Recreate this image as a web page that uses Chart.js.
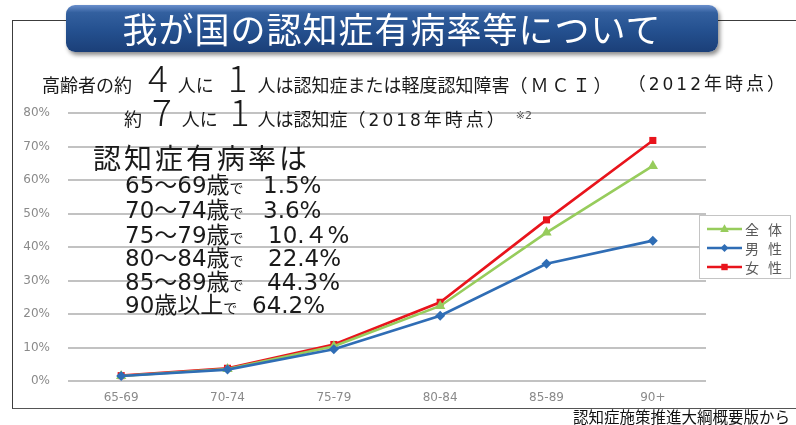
<!DOCTYPE html>
<html><head><meta charset="utf-8">
<script src="https://cdn.jsdelivr.net/npm/chart.js@4.4.1/dist/chart.umd.min.js"></script>
<style>
html,body{margin:0;padding:0;background:#fff;}
#wrap{position:relative;width:796px;height:425px;overflow:hidden;font-family:"Noto Sans CJK JP",sans-serif;color:#1a1a1a;}
canvas{position:absolute;left:0;top:0;}
.frame{position:absolute;left:12px;top:20px;width:800px;height:387px;border-left:1px solid #3c3c3c;border-top:1px solid #3c3c3c;border-bottom:1px solid #555;}
.banner{position:absolute;left:66px;top:5px;width:652px;height:47px;border-radius:9px;background:linear-gradient(#6a8fcc 0%,#33609f 16%,#24508f 55%,#1b3f78 100%);box-shadow:2px 3px 4px rgba(0,0,0,.45);color:#fff;font-size:35px;line-height:46px;text-align:center;letter-spacing:1px;}
.sub{position:absolute;display:flex;align-items:baseline;white-space:nowrap;height:40px;}
.s{font-size:18px;}
.m{font-size:18px;letter-spacing:3px;}
.p{font-size:18px;letter-spacing:3px;}
.p i{font-style:normal;font-family:"DejaVu Sans";font-size:17px;}
.b{font-family:"Noto Sans CJK JP";font-size:37px;font-weight:300;line-height:1;}
.sup{font-size:11px;position:relative;top:-7px;margin-left:8px;color:#555;font-family:"DejaVu Sans","Noto Sans CJK JP";}
.abs{position:absolute;white-space:nowrap;}
.ann{position:absolute;white-space:nowrap;font-family:"DejaVu Sans","Noto Sans CJK JP";font-size:23px;line-height:23px;color:#1a1a1a;}
.ann .de{font-size:14px;}
.hdr{position:absolute;left:93px;top:143px;font-size:28px;line-height:28px;letter-spacing:3px;white-space:nowrap;}
.src{position:absolute;right:6px;top:408px;font-size:15.5px;line-height:16px;white-space:nowrap;color:#111;}
</style></head>
<body>
<div id="wrap">
<canvas id="c" width="796" height="425"></canvas>
<div class="frame"></div>
<div class="banner">我が国の認知症有病率等について</div>
<div class="sub" style="left:42px;top:58px"><span class="s">高齢者の約</span><span class="b" style="margin:0 10px 0 16px">4</span><span class="s">人に</span><span class="b" style="margin:0 10px 0 14px">1</span><span class="s">人は認知症または軽度認知障害</span><span class="m">（ＭＣＩ）</span></div>
<div class="abs p" style="right:8px;top:69px;letter-spacing:3px">（<i>2012</i>年時点）</div>
<div class="sub" style="left:124px;top:92px"><span class="s">約</span><span class="b" style="margin:0 10px 0 10px">7</span><span class="s">人に</span><span class="b" style="margin:0 8px 0 12px">1</span><span class="s">人は認知症</span><span class="p">（<i>2018</i>年時点）</span><span class="sup">※2</span></div>
<div class="hdr">認知症有病率は</div>
<div id="ann"></div>
<div class="src">認知症施策推進大綱概要版から</div>
</div>
<script>
// ---- data ----
const categories = ['65-69', '70-74', '75-79', '80-84', '85-89', '90+'];
const seriesNames = ['全体', '男性', '女性'];
const totalValues = [1.5, 3.6, 10.4, 22.4, 44.3, 64.2];
const maleValues = [1.5, 3.4, 9.5, 19.5, 35.0, 41.9];
const femaleValues = [1.6, 3.8, 10.9, 23.5, 48.1, 71.8];
const annLabels = ['65～69歳', '70～74歳', '75～79歳', '80～84歳', '85～89歳', '90歳以上'];
const annValues = ['1.5%', '3.6%', '10.４%', '22.4%', '44.3%', '64.2%'];

// annotation text rows
const annTops = [174, 199, 224, 247, 271, 294];
const annValX = [263, 263, 268, 268, 267, 252];
const annBox = document.getElementById('ann');
annLabels.forEach((lab, i) => {
  const d = document.createElement('div');
  d.className = 'ann';
  d.style.left = '125px'; d.style.top = annTops[i] + 'px';
  d.innerHTML = lab + '<span class="de">で</span>';
  annBox.appendChild(d);
  const v = document.createElement('div');
  v.className = 'ann';
  v.style.left = annValX[i] + 'px'; v.style.top = annTops[i] + 'px';
  v.textContent = annValues[i];
  annBox.appendChild(v);
});

const colors = ['#97cc5c', '#2f6db5', '#e8141c'];
const styles = ['triangle', 'rectRot', 'rect'];
const radii = [6, 5, 5];

function drawMarker(ctx, style, x, y, r, color) {
  ctx.save();
  ctx.fillStyle = color;
  ctx.beginPath();
  if (style === 'triangle') {
    ctx.moveTo(x, y - r); ctx.lineTo(x + r * 0.9, y + r * 0.6); ctx.lineTo(x - r * 0.9, y + r * 0.6);
  } else if (style === 'rectRot') {
    ctx.moveTo(x, y - r); ctx.lineTo(x + r, y); ctx.lineTo(x, y + r); ctx.lineTo(x - r, y);
  } else {
    ctx.rect(x - r * 0.8, y - r * 0.8, r * 1.6, r * 1.6);
  }
  ctx.closePath(); ctx.fill();
  ctx.restore();
}

const legendPlugin = {
  id: 'boxLegend',
  afterDraw(chart) {
    const ctx = chart.ctx;
    const bx = 699, by = 215, bw = 91, bh = 63;
    ctx.save();
    ctx.fillStyle = '#fff';
    ctx.fillRect(bx, by, bw, bh);
    ctx.strokeStyle = '#c4c4c4'; ctx.lineWidth = 1;
    ctx.strokeRect(bx + 0.5, by + 0.5, bw, bh);
    chart.data.datasets.forEach((ds, i) => {
      const y = by + 14 + i * 19;
      ctx.strokeStyle = ds.borderColor; ctx.lineWidth = 2.5;
      ctx.beginPath(); ctx.moveTo(707, y); ctx.lineTo(742, y); ctx.stroke();
      drawMarker(ctx, ds.pointStyle, 724.5, y, ds.pointRadius * 0.8, ds.borderColor);
      ctx.fillStyle = '#595959';
      ctx.font = '14px "Noto Sans CJK JP"';
      ctx.textBaseline = 'middle';
      [...ds.label].forEach((ch, k) => ctx.fillText(ch, 745 + k * 23, y + 1));
    });
    ctx.restore();
  }
};

const datasets = [totalValues, maleValues, femaleValues].map((vals, i) => ({
  label: seriesNames[i],
  data: vals,
  borderColor: colors[i],
  backgroundColor: colors[i],
  pointBackgroundColor: colors[i],
  pointBorderColor: colors[i],
  pointStyle: styles[i],
  pointRadius: radii[i],
  pointBorderWidth: 0,
  borderWidth: 2.6,
  tension: 0,
  order: [1, 0, 2][i]
}));

new Chart(document.getElementById('c'), {
  type: 'line',
  data: { labels: categories, datasets },
  options: {
    responsive: false,
    animation: false,
    devicePixelRatio: 1,
    layout: { padding: { left: 0, right: 90, top: 113, bottom: 0 } },
    plugins: { legend: { display: false }, tooltip: { enabled: false } },
    scales: {
      x: {
        offset: true,
        grid: { display: false, drawTicks: false },
        border: { display: false },
        ticks: { color: '#8a8a8a', font: { family: 'DejaVu Sans', size: 12 }, padding: 10 },
        afterFit(s) { s.height = 44; }
      },
      y: {
        min: 0, max: 80,
        ticks: { stepSize: 10, color: '#8a8a8a', font: { family: 'DejaVu Sans', size: 12 }, padding: 18, callback: v => v + '%' },
        grid: { color: '#c2c2c2', lineWidth: 2, drawTicks: false },
        border: { display: false },
        afterFit(s) { s.width = 68; }
      }
    }
  },
  plugins: [legendPlugin]
});
</script>
</body></html>
